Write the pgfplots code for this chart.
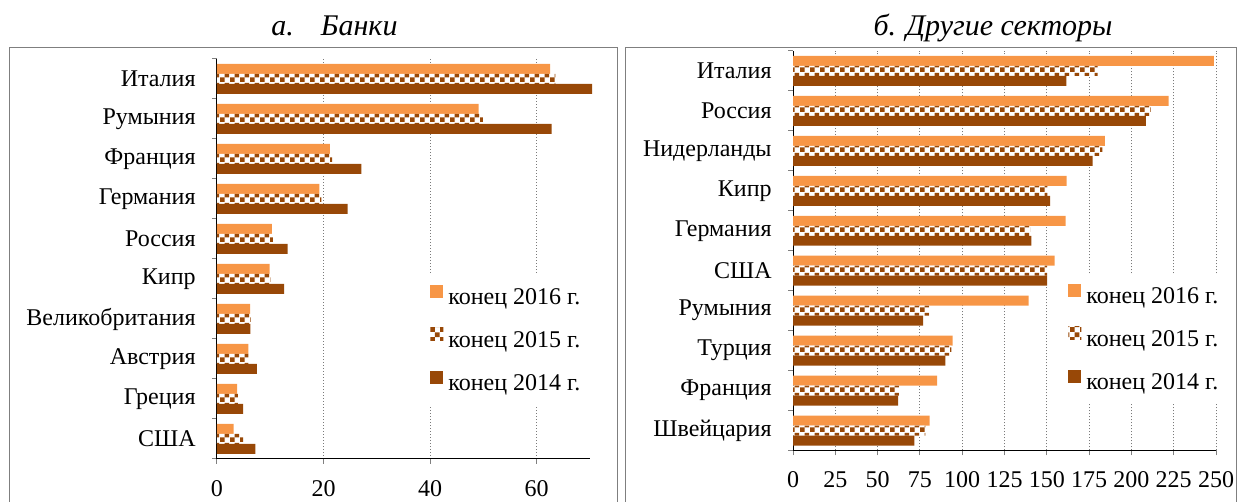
\documentclass[border=0pt]{standalone}
\usepackage{fontspec}
\setmainfont{Liberation Serif}
\usepackage{pgfplots}
\pgfplotsset{compat=1.18}
\usetikzlibrary{patterns.meta}
\definecolor{cA}{HTML}{F79646}
\definecolor{cB}{HTML}{984807}
\definecolor{tickgray}{HTML}{808080}
\definecolor{framegray}{HTML}{7F7F7F}
\definecolor{gridgray}{HTML}{7A7A7A}
\tikzdeclarepattern{
  name=checks,
  type=uncolored,
  bounding box={(0pt,0pt) and (5pt,5pt)},
  tile size={(5pt,5pt)},
  code={\fill (0pt,0pt) rectangle (2.5pt,2.5pt); \fill (2.5pt,2.5pt) rectangle (5pt,5pt);}
}
\pgfplotsset{
  mybase/.style={
    scale only axis,
    xbar,
    bar width=0.25,
    ymin=-0.5, ymax=9.5,
    ytick={-0.5,0.5,1.5,2.5,3.5,4.5,5.5,6.5,7.5,8.5,9.5},
    y tick label as interval,
    axis lines*=left,
    axis line style={black, line width=0.5pt},
    tick align=outside,
    major tick length=2.5pt,
    tick style={draw=tickgray, line width=0.5pt},
    xmajorgrids,
    major grid style={draw=gridgray, line width=0.5pt, dash pattern=on 0.6pt off 0.9pt},
    /pgf/number format/assume math mode=true,
    tick label style={font=\fontsize{12}{14}\selectfont},
    yticklabel style={inner sep=0pt, xshift=-8pt},
    xticklabel style={inner sep=0pt, yshift=-8pt},
    legend cell align=left,
    sq/.style={legend image code/.code={\fill[##1] (0pt,0.3pt) rectangle (6.5pt,6.8pt);}},
  }
}
\begin{document}
\begin{tikzpicture}[x=0.5pt,y=0.5pt]
\useasboundingbox (0,0) rectangle (1237,502);
\draw[framegray, line width=0.6pt] (9.5,-10) -- (9.5,454.7) -- (617.5,454.7) -- (617.5,-10);
\draw[framegray, line width=0.6pt] (625.5,-10) -- (625.5,454.7) -- (1236.5,454.7) -- (1236.5,-10);
\node[anchor=base, font=\fontsize{15}{18}\selectfont\itshape] at (334.5,466) {а.\hspace{0.9em}Банки};
\node[anchor=base, font=\fontsize{15}{18}\selectfont\itshape] at (993,466) {б. Другие секторы};

\begin{axis}[mybase,
  at={(108.5pt,21.5pt)}, anchor=south west,
  width=186.5pt, height=200pt,
  xmin=0, xmax=70, clip=false,
  xtick={0,20,40,60},
  yticklabels={США,Греция,Австрия,Великобритания,Кипр,Россия,Германия,Франция,Румыния,Италия},
  legend style={at={(0.5442,0.46)}, anchor=north west, draw=none, fill=white,
    inner sep=5pt, row sep=9pt, column sep=2.5pt,
    nodes={inner sep=0pt, text height=8.5pt, text depth=2.5pt, font=\fontsize{12}{14}\selectfont}},
]
\addplot[sq, draw=none, fill=cA, bar shift=0.25] coordinates {
(62.5,9) (49.1,8) (21.2,7) (19.2,6) (10.3,5) (9.9,4) (6.2,3) (5.9,2) (3.8,1) (3.1,0)};
\addlegendentry{конец 2016 г.}
\addplot[sq, draw=none, fill=white, postaction={pattern=checks, pattern color=cB}, bar shift=0] coordinates {
(63.5,9) (49.9,8) (21.6,7) (19.6,6) (10.5,5) (10.0,4) (6.3,3) (5.9,2) (3.9,1) (4.9,0)};
\addlegendentry{конец 2015 г.}
\addplot[sq, draw=none, fill=cB, bar shift=-0.25] coordinates {
(70.4,9) (62.8,8) (27.1,7) (24.5,6) (13.25,5) (12.6,4) (6.25,3) (7.5,2) (4.9,1) (7.2,0)};
\addlegendentry{конец 2014 г.}
\end{axis}

\begin{axis}[mybase,
  at={(396.5pt,25.75pt)}, anchor=south west,
  width=211.5pt, height=199.75pt,
  xmin=0, xmax=250,
  xtick={0,25,...,250},
  yticklabels={Швейцария,Франция,Турция,Румыния,США,Германия,Кипр,Нидерланды,Россия,Италия},
  legend style={at={(0.6265,0.4418)}, anchor=north west, draw=none, fill=white,
    inner sep=5pt, row sep=9pt, column sep=2.5pt,
    nodes={inner sep=0pt, text height=8.5pt, text depth=2.5pt, font=\fontsize{12}{14}\selectfont}},
]
\addplot[sq, draw=none, fill=cA, bar shift=0.25] coordinates {
(248.8,9) (222.0,8) (184.3,7) (161.7,6) (161.1,5) (154.6,4) (139.2,3) (94.4,2) (85.2,1) (80.8,0)};
\addlegendentry{конец 2016 г.}
\addplot[sq, draw=none, fill=white, postaction={pattern=checks, pattern color=cB}, bar shift=0] coordinates {
(180.0,9) (211.4,8) (182.8,7) (150.4,6) (140.2,5) (150.2,4) (80.6,3) (93.6,2) (62.7,1) (78.3,0)};
\addlegendentry{конец 2015 г.}
\addplot[sq, draw=none, fill=cB, bar shift=-0.25] coordinates {
(161.5,9) (208.6,8) (177.1,7) (152.0,6) (140.9,5) (150.2,4) (76.9,3) (90.1,2) (62.1,1) (71.8,0)};
\addlegendentry{конец 2014 г.}
\end{axis}
\end{tikzpicture}
\end{document}
